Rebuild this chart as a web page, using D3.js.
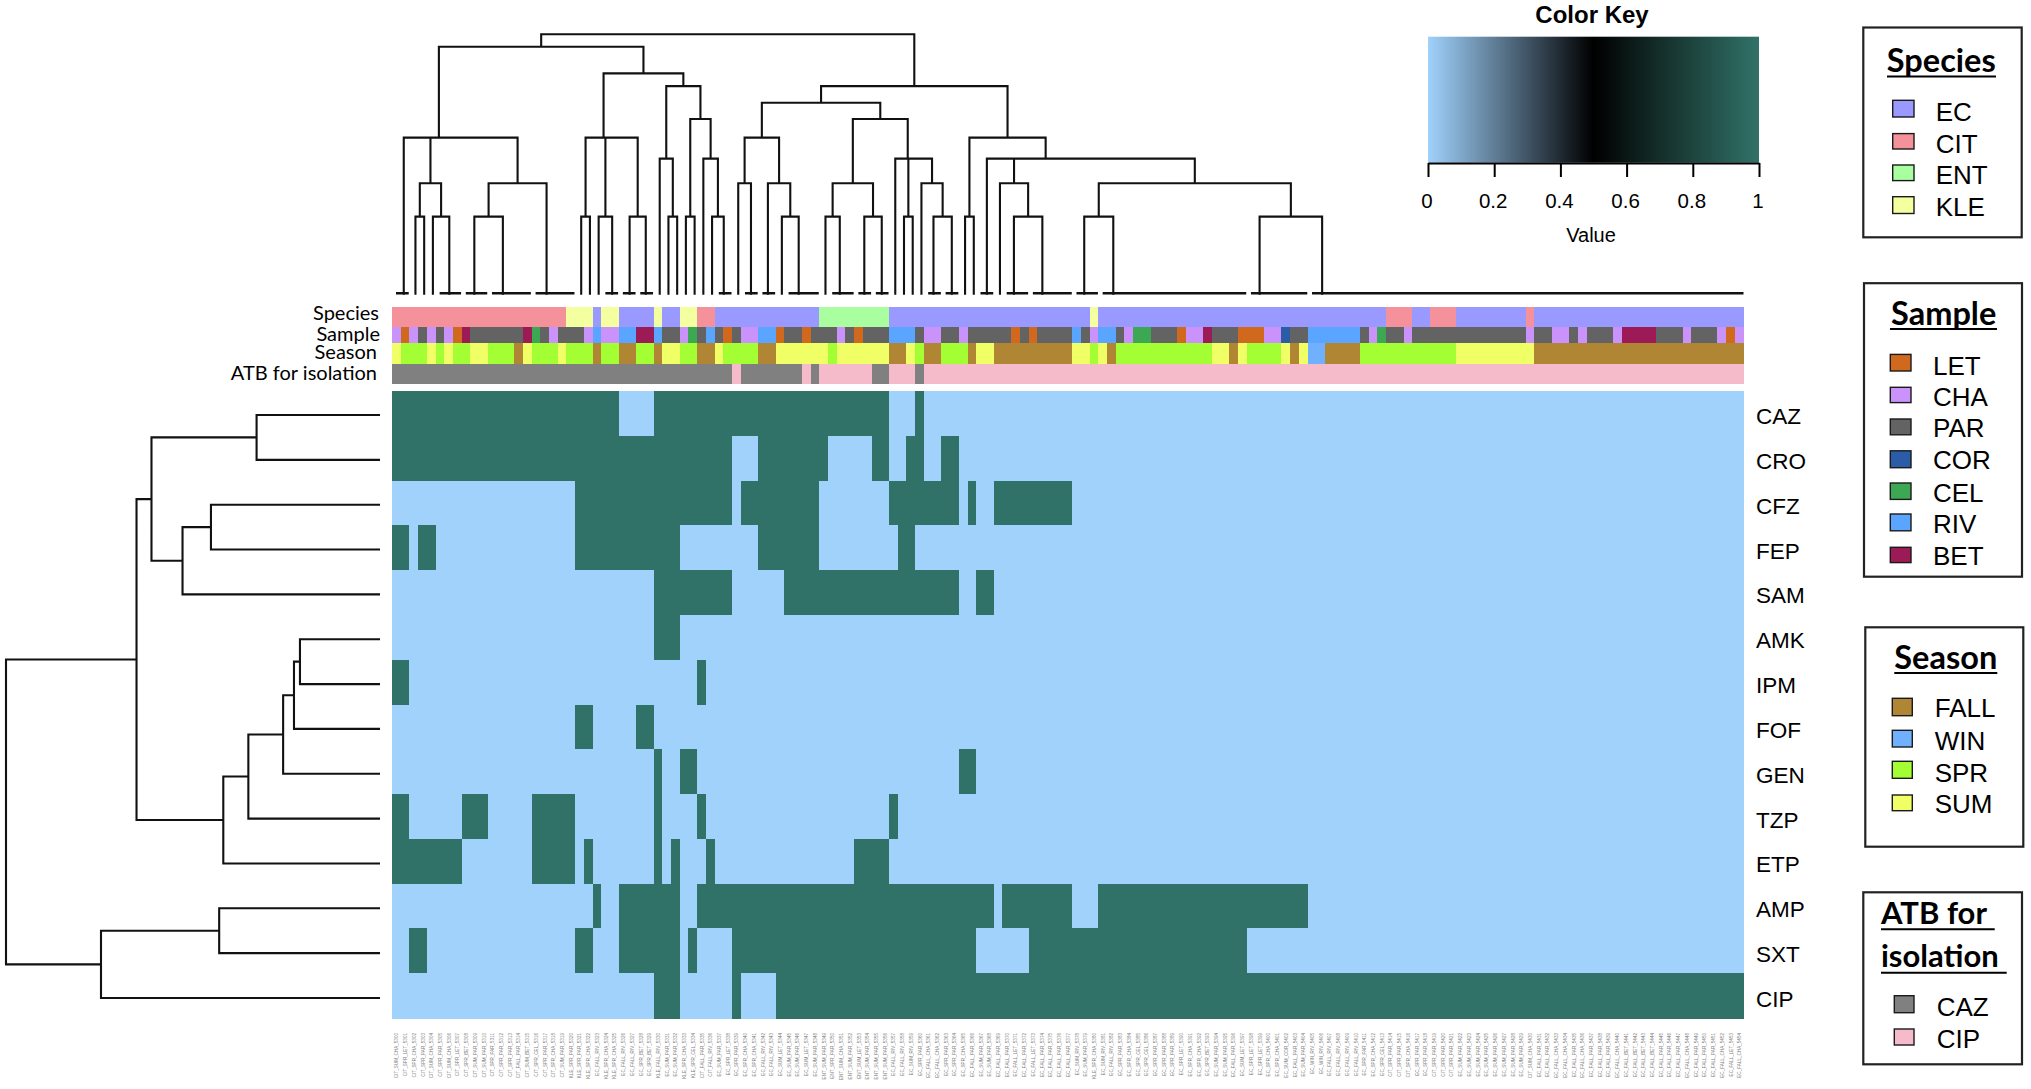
<!DOCTYPE html>
<html>
<head>
<meta charset="utf-8">
<script src="https://cdn.jsdelivr.net/npm/d3@7"></script>
<style>
html,body{margin:0;padding:0;background:#fff;overflow:hidden}
svg{display:block}
text{fill:#000}
</style>
</head>
<body>
<svg id="c" width="2031" height="1089"></svg>
<script>
const N_COLS = 155;
const drugs = ["CAZ","CRO","CFZ","FEP","SAM","AMK","IPM","FOF","GEN","TZP","ETP","AMP","SXT","CIP"];

// resistant (value 1) column runs per antibiotic: [first, endExclusive]
const runsCAZ = [[0,26],[30,57],[60,61]];
const runsCRO = [[0,39],[42,50],[55,57],[59,61],[63,65]];
const runsCFZ = [[21,39],[40,49],[57,65],[66,67],[69,78]];
const runsFEP = [[0,2],[3,5],[21,33],[42,49],[58,60]];
const runsSAM = [[30,39],[45,65],[67,69]];
const runsAMK = [[30,33]];
const runsIPM = [[0,2],[35,36]];
const runsFOF = [[21,23],[28,30]];
const runsGEN = [[30,31],[33,35],[65,67]];
const runsTZP = [[0,2],[8,11],[16,21],[30,31],[35,36],[57,58]];
const runsETP = [[0,8],[16,21],[22,23],[30,31],[32,33],[36,37],[53,57]];
const runsAMP = [[23,24],[26,33],[35,69],[70,78],[81,105]];
const runsSXT = [[2,4],[21,23],[26,33],[34,35],[39,67],[73,98]];
const runsCIP = [[30,33],[39,40],[44,155]];

// annotation tracks as [category, run length]
const speciesRuns = [["CIT",20],["KLE",3],["EC",1],["KLE",2],["EC",4],["KLE",1],["EC",2],["KLE",2],["CIT",2],["EC",12],["ENT",8],["EC",23],["KLE",1],["EC",33],["CIT",3],["EC",2],["CIT",3],["EC",8],["CIT",1],["EC",24]];
const sampleRuns = [["CHA",1],["LET",1],["CHA",1],["PAR",1],["CHA",1],["PAR",1],["CHA",1],["LET",1],["BET",1],["PAR",6],["BET",1],["CEL",1],["PAR",1],["CHA",1],["PAR",3],["CHA",1],["RIV",1],["CHA",2],["RIV",2],["BET",2],["RIV",1],["PAR",2],["CHA",1],["CEL",1],["PAR",1],["RIV",1],["PAR",1],["LET",1],["PAR",1],["CHA",2],["RIV",2],["LET",1],["PAR",2],["LET",1],["PAR",3],["CHA",1],["PAR",1],["LET",1],["PAR",3],["RIV",3],["PAR",1],["CHA",2],["PAR",2],["CHA",1],["PAR",5],["LET",1],["PAR",1],["LET",1],["PAR",4],["RIV",1],["PAR",1],["CHA",1],["RIV",2],["PAR",1],["CHA",1],["CEL",2],["PAR",3],["LET",1],["CHA",2],["BET",1],["PAR",3],["LET",3],["CHA",2],["COR",1],["PAR",2],["RIV",6],["PAR",1],["CHA",1],["CEL",1],["PAR",2],["CHA",1],["PAR",13],["CHA",1],["PAR",2],["CHA",2],["PAR",1],["CHA",1],["PAR",3],["CHA",1],["BET",4],["PAR",3],["CHA",1],["PAR",3],["CHA",1],["LET",1],["CHA",1]];
const seasonRuns = [["SUM",1],["SPR",3],["SUM",1],["SPR",1],["SUM",1],["SPR",2],["SUM",2],["SPR",3],["FALL",1],["SUM",1],["SPR",3],["SUM",1],["SPR",3],["FALL",1],["SPR",2],["FALL",2],["SPR",2],["FALL",1],["SUM",2],["SPR",2],["FALL",2],["SUM",1],["SPR",4],["FALL",2],["SUM",6],["SPR",1],["SUM",6],["FALL",2],["SUM",1],["SPR",1],["FALL",2],["SPR",3],["FALL",1],["SUM",2],["FALL",9],["SUM",2],["SPR",1],["SUM",1],["FALL",1],["SPR",11],["SUM",2],["FALL",1],["SUM",1],["SPR",4],["SUM",1],["FALL",1],["SUM",1],["WIN",2],["FALL",4],["SPR",11],["SUM",9],["FALL",24]];
const atbRuns = [["CAZ",39],["CIP",1],["CAZ",7],["CIP",1],["CAZ",1],["CIP",6],["CAZ",2],["CIP",3],["CAZ",1],["CIP",94]];

// legend entries
const speciesKeys = ["EC","CIT","ENT","KLE"];
const speciesColors = ["#9999ff","#f4919a","#a9ff9f","#f4ff9f"];
const sampleKeys = ["LET","CHA","PAR","COR","CEL","RIV","BET"];
const sampleColors = ["#d0691e","#c993fb","#636363","#2a5ca8","#3da854","#5aa5ff","#9c1a55"];
const seasonKeys = ["FALL","WIN","SPR","SUM"];
const seasonColors = ["#b08634","#70b1ff","#a3ff33","#f0ff66"];
const atbKeys = ["CAZ","CIP"];
const atbColors = ["#808080","#f5bbcb"];

const keyTicks = [0,0.2,0.4,0.6,0.8,1];
const lowColor = "#a0d2fc", midColor = "#000000", highColor = "#317268";

// column dendrogram: merge(height, a, b); cluster(first, last, anchor column)
const merge = (h,a,b) => ({h, children:[a,b]});
const cluster = (lo,hi=lo,at=lo) => ({h:0, lo, hi, at});
const colTree = merge(1,
  merge(.952,
    merge(.601, cluster(0,1,.66),
      merge(.601,
        merge(.425, merge(.296,cluster(2),cluster(3)), merge(.296,cluster(4),cluster(5,7,5.88))),
        merge(.425, merge(.296,cluster(8,10,8.75),cluster(11,15,12.02)), cluster(16,20,17.03)))),
    merge(.849,
      merge(.601, merge(.296,cluster(21),cluster(22)),
        merge(.601, merge(.296,cluster(23),cluster(24,25,24.55)), merge(.296,cluster(26,27,26.55),cluster(28,29,28.4)))),
      merge(.80,
        merge(.52, cluster(30), merge(.296,cluster(31),cluster(32))),
        merge(.673, merge(.296,cluster(33),cluster(34)),
          merge(.52, cluster(35), merge(.296,cluster(36),cluster(37,38,37.34))))))),
  merge(.80,
    merge(.736,
      merge(.601,
        merge(.425, cluster(39), cluster(40,41,40.46)),
        merge(.425, cluster(42,43,42.4), merge(.296,cluster(44),cluster(45,48,45.93)))),
      merge(.673,
        merge(.425, merge(.296,cluster(49),cluster(50,52,50.64)), merge(.296,cluster(53,54,53.45),cluster(55,56,55.45))),
        merge(.52, cluster(57),
          merge(.52, merge(.296,cluster(58),cluster(59)),
            merge(.425, cluster(60), merge(.296,cluster(61,62,61.38),cluster(63,64,63.48))))))),
    merge(.601, merge(.296,cluster(65),cluster(66)),
      merge(.52, cluster(67,68,67.5),
        merge(.52,
          merge(.425, cluster(69), merge(.296,cluster(70,72,70.6),cluster(73,77,73.86))),
          merge(.425, merge(.296,cluster(78,80,78.66),cluster(81,97,81.99)),
                      merge(.296,cluster(98,104,98.76),cluster(105,154,105.93))))))));

// row dendrogram
const rowLeaf = i => ({h:0, at:i});
const rowTree = merge(1,
  merge(.651,
    merge(.611,
      merge(.33,rowLeaf(0),rowLeaf(1)),
      merge(.528, merge(.452,rowLeaf(2),rowLeaf(3)), rowLeaf(4))),
    merge(.419,
      merge(.352,
        merge(.259, merge(.23, merge(.214,rowLeaf(5),rowLeaf(6)), rowLeaf(7)), rowLeaf(8)),
        rowLeaf(9)),
      rowLeaf(10))),
  merge(.746, merge(.43,rowLeaf(11),rowLeaf(12)), rowLeaf(13)));

const runsByDrug = [runsCAZ,runsCRO,runsCFZ,runsFEP,runsSAM,runsAMK,runsIPM,runsFOF,runsGEN,runsTZP,runsETP,runsAMP,runsSXT,runsCIP];
const expand = runs => runs.flatMap(([k,n]) => d3.range(n).map(() => k));
const species = expand(speciesRuns), sample = expand(sampleRuns), season = expand(seasonRuns), atb = expand(atbRuns);
// column labels are illegible in the source; composed from the metadata of each column
const colNames = d3.range(N_COLS).map(i => `${species[i]}_${season[i]}_${sample[i]}_${5300+i}`);

const svg = d3.select("#c");
const SANS = "'Liberation Sans',Arial,sans-serif", CAL = "Lato,'Open Sans',sans-serif";

const x = d3.scaleBand().domain(d3.range(N_COLS)).range([392,1743.6]);
const y = d3.scaleBand().domain(drugs).range([391,1018]);
const color = d3.scaleLinear().domain([0,.5,1]).range([lowColor,midColor,highColor]);
const matrix = drugs.flatMap((d,r) => d3.range(N_COLS).map(c => ({d,c,v:runsByDrug[r].some(([a,b]) => c>=a && c<b)?1:0})));

svg.append("g").attr("shape-rendering","crispEdges").selectAll("rect").data(matrix).join("rect")
  .attr("x",d=>x(d.c)).attr("y",d=>y(d.d)).attr("width",x.bandwidth()+.5).attr("height",y.bandwidth()+.5)
  .attr("fill",d=>color(d.v));

// annotation tracks
const tracks = [
  {name:"Species",values:species,keys:speciesKeys,colors:speciesColors,y0:306.7,y1:326.7,ly:312,lx:379},
  {name:"Sample",values:sample,keys:sampleKeys,colors:sampleColors,y0:326.7,y1:343.3,ly:333,lx:380},
  {name:"Season",values:season,keys:seasonKeys,colors:seasonColors,y0:343.3,y1:364,ly:351,lx:377},
  {name:"ATB for isolation",values:atb,keys:atbKeys,colors:atbColors,y0:364,y1:384,ly:372,lx:377}
];
tracks.forEach(t => {
  const sc = d3.scaleOrdinal(t.keys,t.colors);
  svg.append("g").attr("shape-rendering","crispEdges").selectAll("rect").data(t.values).join("rect")
    .attr("x",(d,i)=>x(i)).attr("y",t.y0).attr("width",x.bandwidth()+.5).attr("height",t.y1-t.y0)
    .attr("fill",d=>sc(d));
  svg.append("text").attr("x",t.lx).attr("y",t.ly).attr("text-anchor","end").attr("dominant-baseline","central")
    .style("font",`20px ${CAL}`).text(t.name);
});

// column dendrogram
const dx = d3.scaleLinear().domain([0,154]).range([398,1741.5]);
const dh = d3.scaleLinear().domain([0,1]).range([293.3,34.3]);
const ct = d3.hierarchy(colTree);
ct.eachAfter(n => { n.pos = n.children ? d3.mean(n.children,c=>c.pos) : n.data.at; });
const pathC = d3.path(), barC = d3.path();
ct.each(n => {
  if(!n.children){
    if(n.data.hi>n.data.lo){ barC.moveTo(dx(n.data.lo)-2,dh(0)); barC.lineTo(dx(n.data.hi)+2,dh(0)); }
    return;
  }
  const [a,b] = n.children, Y = dh(n.data.h);
  pathC.moveTo(dx(a.pos),dh(a.data.h)+(a.children?0:1.5)); pathC.lineTo(dx(a.pos),Y);
  pathC.lineTo(dx(b.pos),Y); pathC.lineTo(dx(b.pos),dh(b.data.h)+(b.children?0:1.5));
});
svg.append("path").attr("d",pathC.toString()).attr("fill","none").attr("stroke","#111").attr("stroke-width",2.1);
svg.append("path").attr("d",barC.toString()).attr("fill","none").attr("stroke","#111").attr("stroke-width",2.6);

// row dendrogram
const ry = d3.scaleLinear().domain([0,13]).range([415,998]);
const rh = d3.scaleLinear().domain([0,1]).range([380,6]);
const rt = d3.hierarchy(rowTree);
rt.eachAfter(n => { n.pos = n.children ? d3.mean(n.children,c=>c.pos) : n.data.at; });
const pathR = d3.path();
rt.each(n => {
  if(!n.children) return;
  const [a,b] = n.children, X = rh(n.data.h);
  pathR.moveTo(rh(a.data.h),ry(a.pos)); pathR.lineTo(X,ry(a.pos));
  pathR.lineTo(X,ry(b.pos)); pathR.lineTo(rh(b.data.h),ry(b.pos));
});
svg.append("path").attr("d",pathR.toString()).attr("fill","none").attr("stroke","#111").attr("stroke-width",2.1);

// row labels
svg.append("g").selectAll("text").data(drugs).join("text")
  .attr("x",1756).attr("y",(d,i)=>ry(i)+1.5).attr("dominant-baseline","central")
  .style("font",`22.5px ${SANS}`).text(d=>d);

// column labels
svg.append("g").selectAll("text").data(colNames).join("text")
  .attr("transform",(d,i)=>`translate(${x(i)+x.bandwidth()/2+2},1033) rotate(-90)`)
  .attr("text-anchor","end").style("font",`4.6px ${SANS}`).style("fill","#7f7f7f").text(d=>d);

// colour key
const kx = d3.scaleLinear().domain([0,1]).range([1428,1759]);
const defs = svg.append("defs");
const grad = defs.append("linearGradient").attr("id","kg");
grad.selectAll("stop").data(d3.range(0,1.0001,.05)).join("stop")
  .attr("offset",d=>d).attr("stop-color",d=>color(d));
svg.append("rect").attr("x",kx(0)).attr("y",36.7).attr("width",kx(1)-kx(0)).attr("height",126).attr("fill","url(#kg)");
const keyAxis = svg.append("g").attr("transform","translate(0,163)")
  .call(d3.axisBottom(kx).tickValues(keyTicks).tickFormat(d3.format("~g")).tickSize(14).tickPadding(16.5).tickSizeOuter(0));
keyAxis.selectAll("path,line").attr("stroke","#000").attr("stroke-width",2);
keyAxis.selectAll("text").style("font",`20.5px ${SANS}`).attr("dx",-1.5);
svg.append("text").attr("x",1592).attr("y",14).attr("text-anchor","middle").attr("dominant-baseline","central")
  .style("font",`bold 24px ${SANS}`).text("Color Key");
svg.append("text").attr("x",1591).attr("y",235).attr("text-anchor","middle").attr("dominant-baseline","central")
  .style("font",`20px ${SANS}`).text("Value");

// legends
const legends = [
 {box:[1863.3,27.5,2021.7,237.3],title:["Species"],tx:1941.3,ty:[71.5],ux:[[1887,1996]],uy:[76.5],keys:speciesKeys,colors:speciesColors,
  sx:[1892.7,1914],sy:[100.3,133.6,165,196.7],sh:[16.7,15.4,15.6,16.8],lx:1935.7,ly:[112,143.5,175,206.7]},
 {box:[1864,283.2,2022,576.7],title:["Sample"],tx:1943.7,ty:[325],ux:[[1890,1997]],uy:[329],keys:sampleKeys,colors:sampleColors,
  sx:[1890.3,1911],sy:[354.4,387.3,419,450.8,483,514,547.3],sh:[16.6,15.3,15.8,16.9,16.4,16.8,15.3],lx:1933,ly:[365.5,396.5,427.9,460.4,493,524.3,556]},
 {box:[1865.3,627.3,2023.3,846.7],title:["Season"],tx:1945.8,ty:[668.5],ux:[[1894.3,1997.3]],uy:[673],keys:seasonKeys,colors:seasonColors,
  sx:[1892.3,1912.3],sy:[698.3,730.3,761.3,795],sh:[17.4,16.7,17,15.7],lx:1934.7,ly:[708,740.7,773,804]},
 {box:[1863.3,892.3,2022,1064.3],title:["ATB for","isolation"],tx:1881,ty:[924,966.7],ux:[[1881,1994.7],[1881,2006.7]],uy:[929.3,972.7],keys:atbKeys,colors:atbColors,
  sx:[1894.3,1914],sy:[995.7,1029],sh:[17,16],lx:1936.7,ly:[1006.7,1039.3],left:true}
];
legends.forEach(L => {
  const g = svg.append("g");
  g.append("rect").attr("x",L.box[0]).attr("y",L.box[1]).attr("width",L.box[2]-L.box[0]).attr("height",L.box[3]-L.box[1])
    .attr("fill","none").attr("stroke","#222").attr("stroke-width",2.2);
  L.title.forEach((t,i) => {
    g.append("text").attr("x",L.tx).attr("y",L.ty[i]).attr("text-anchor",L.left?"start":"middle")
      .style("font",`bold ${L.left?31:32.5}px ${CAL}`).text(t);
    g.append("line").attr("x1",L.ux[i][0]).attr("x2",L.ux[i][1]).attr("y1",L.uy[i]).attr("y2",L.uy[i])
      .attr("stroke","#000").attr("stroke-width",2);
  });
  L.keys.forEach((k,i) => {
    g.append("rect").attr("x",L.sx[0]).attr("y",L.sy[i]).attr("width",L.sx[1]-L.sx[0]).attr("height",L.sh[i])
      .attr("fill",L.colors[i]).attr("stroke","#1a1a1a").attr("stroke-width",1.4);
    g.append("text").attr("x",L.lx).attr("y",L.ly[i]).attr("dominant-baseline","central")
      .style("font",`26px ${SANS}`).text(k);
  });
});
</script>
</body>
</html>
